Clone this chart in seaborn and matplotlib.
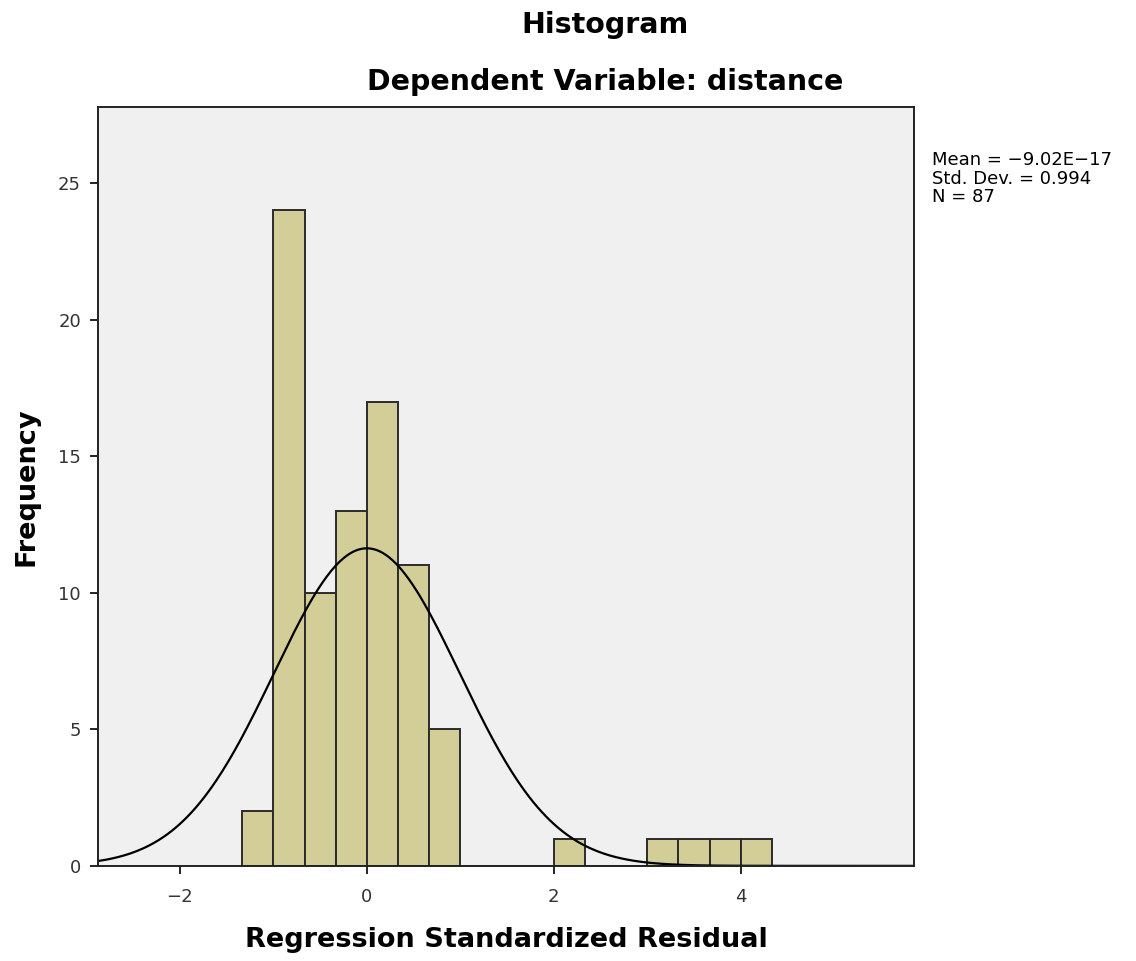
import numpy as np
import pandas as pd
import matplotlib
matplotlib.use("Agg")
import matplotlib.pyplot as plt
import seaborn as sns

# histogram bins (bin width 1/3)
bin_edges = [-1.333, -1.0, -0.667, -0.333, 0.0, 0.333, 0.667, 1.0, 1.333,
             1.667, 2.0, 2.333, 2.667, 3.0, 3.333, 3.667, 4.0, 4.333]
counts = [2, 24, 10, 13, 17, 11, 5, 0, 0, 0, 1, 0, 0, 1, 1, 1, 1]

# summary stats shown in the chart
mean_val = -9.02e-17
sd_val = 0.994
n_val = 87

x_ticks = [-2, 0, 2, 4]
y_ticks = [0, 5, 10, 15, 20, 25]

sns.set_style("white")
plt.rcParams['font.family'] = ['DejaVu Sans']
plt.rcParams['text.color'] = 'black'

fig = plt.figure(figsize=(11.36, 9.61), dpi=100)
ax = fig.add_axes([0.086, 0.099, 0.719, 0.790])
ax.set_facecolor('#f0f0f0')

centers = [(a + b) / 2 for a, b in zip(bin_edges[:-1], bin_edges[1:])]
df = pd.DataFrame({'resid': centers, 'freq': counts})
sns.histplot(data=df, x='resid', weights='freq', bins=bin_edges, ax=ax,
             color='#d3ce98', edgecolor='#2b2b2b', linewidth=1.4, alpha=1)

# fitted normal curve scaled to counts
xlim = (-2.88, 5.86)
width = bin_edges[1] - bin_edges[0]
xs = np.linspace(xlim[0], xlim[1], 400)
ys = n_val * width * np.exp(-0.5 * ((xs - mean_val) / sd_val) ** 2) / (sd_val * np.sqrt(2 * np.pi))
sns.lineplot(x=xs, y=ys, ax=ax, color='black', linewidth=1.6)

ax.set_xlim(*xlim)
ax.set_ylim(0, 27.8)
ax.set_xticks(x_ticks)
ax.set_yticks(y_ticks)
ax.set_xticklabels(['\u22122', '0', '2', '4'])
ax.tick_params(axis='both', which='both', direction='out', length=6, width=1.2,
               colors='black', labelsize=13, labelcolor='#333333',
               bottom=True, left=True, top=False, right=False)
ax.tick_params(axis='x', pad=10)
ax.tick_params(axis='y', pad=6)
for s in ax.spines.values():
    s.set_color('#222222')
    s.set_linewidth(1.4)

ax.set_xlabel('Regression Standardized Residual', fontsize=19.5, fontweight='bold',
              labelpad=15, color='black')
ax.set_ylabel('Frequency', fontsize=19.5, fontweight='bold', labelpad=13, color='black')

fig.text(0.5326, 0.974, 'Histogram', ha='center', va='center', fontsize=20.5, fontweight='bold')
fig.text(0.5326, 0.9147, 'Dependent Variable: distance', ha='center', va='center',
         fontsize=20.5, fontweight='bold')

fig.text(0.8204, 0.814,
         'Mean = \u22129.02E\u221217\nStd. Dev. = 0.994\nN = 87',
         ha='left', va='center', fontsize=13, linespacing=1.05)

fig.savefig('out.png', dpi=100)
